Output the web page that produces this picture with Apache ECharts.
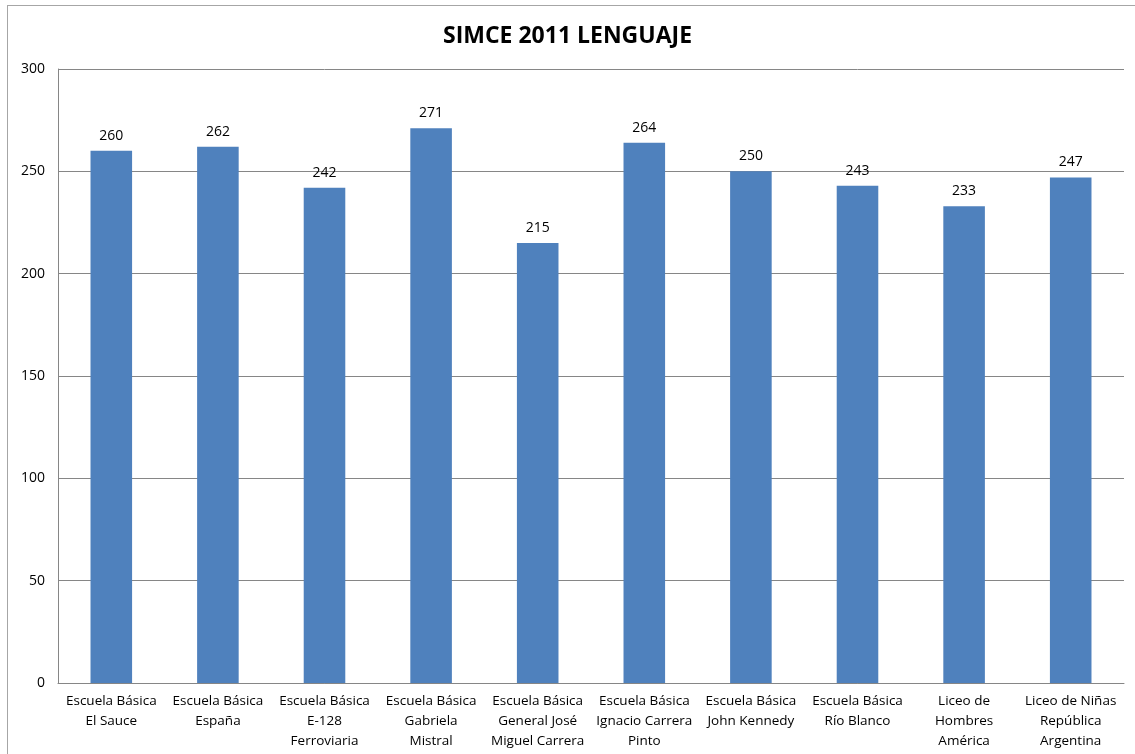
<!DOCTYPE html>
<html><head><meta charset="utf-8">
<script src="https://cdn.jsdelivr.net/npm/echarts@6/dist/echarts.min.js"></script>
<style>html,body{margin:0;padding:0;background:#fff}
#frame{position:absolute;left:7px;top:5px;width:1140px;height:760px;border:1px solid #a6a6a6;box-sizing:border-box}
#c{position:absolute;left:0;top:0;width:1135px;height:754px}</style>
</head><body>
<div id="frame"></div>
<div id="c"></div>
<script>
const categories = [
  "Escuela Básica\nEl Sauce",
  "Escuela Básica\nEspaña",
  "Escuela Básica\nE-128\nFerroviaria",
  "Escuela Básica\nGabriela\nMistral",
  "Escuela Básica\nGeneral José\nMiguel Carrera",
  "Escuela Básica\nIgnacio Carrera\nPinto",
  "Escuela Básica\nJohn Kennedy",
  "Escuela Básica\nRío Blanco",
  "Liceo de\nHombres\nAmérica",
  "Liceo de Niñas\nRepública\nArgentina"
];
const values = [260, 262, 242, 271, 215, 264, 250, 243, 233, 247];
const titleText = "SIMCE 2011 LENGUAJE";

const chart = echarts.init(document.getElementById('c'), null, {renderer: 'canvas'});
const font = "'Open Sans', 'Liberation Sans', sans-serif";
chart.setOption({
  animation: false,
  title: {
    text: titleText, left: 'center', top: 20,
    textStyle: {fontFamily: font, fontWeight: 'bold', fontSize: 23, color: '#000'}
  },
  grid: {left: 58, right: 11, top: 69, bottom: 71, containLabel: false},
  xAxis: {
    type: 'category', data: categories,
    axisLine: {lineStyle: {color: '#868686', width: 1}},
    axisTick: {show: false},
    axisLabel: {fontFamily: font, fontSize: 13.5, color: '#000', lineHeight: 20, margin: 8, interval: 0}
  },
  yAxis: {
    type: 'value', min: 0, max: 300, interval: 50,
    axisLine: {show: true, lineStyle: {color: '#868686', width: 1}},
    axisTick: {show: false},
    splitLine: {lineStyle: {color: '#868686', width: 1}},
    axisLabel: {fontFamily: font, fontSize: 14, color: '#000', margin: 13}
  },
  series: [{
    type: 'bar', data: values, barWidth: '39%',
    itemStyle: {color: '#4f81bd'},
    label: {show: true, position: 'top', distance: 8, fontFamily: font, fontSize: 14, color: '#000'}
  }]
});
</script>
</body></html>
